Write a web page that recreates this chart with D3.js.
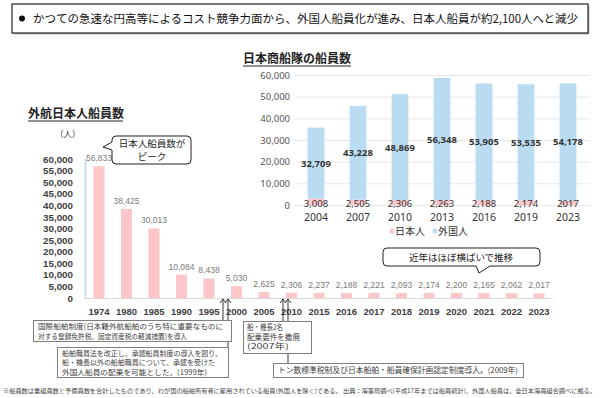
<!DOCTYPE html>
<html><head><meta charset="utf-8">
<script src="https://cdn.jsdelivr.net/npm/d3@7"></script>
<style>
html,body{margin:0;padding:0;background:#fff;}
svg{display:block;}
</style></head>
<body>
<svg id="c" width="600" height="398"></svg>
<script>
// ---------- data ----------
const headline = "かつての急速な円高等によるコスト競争力面から、外国人船員化が進み、日本人船員が約2,100人へと減少";
const leftTitle = "外航日本人船員数";
const leftYears = ["1974","1980","1985","1990","1995","2000","2005","2010","2015","2016","2017","2018","2019","2020","2021","2022","2023"];
const leftValues = [56833,38425,30013,10084,8438,5030,2625,2306,2237,2188,2221,2093,2174,2200,2165,2062,2017];
const leftTicks = [0,5000,10000,15000,20000,25000,30000,35000,40000,45000,50000,55000,60000];

const rightTitle = "日本商船隊の船員数";
const rightYears = ["2004","2007","2010","2013","2016","2019","2023"];
const japanese = [3008,2505,2306,2263,2188,2174,2017];
const foreign = [32709,43228,48869,56348,53905,53535,54178];
const japaneseLabels = ["3,008","2,505","2,306","2,263","2,188","2,174","2017"];
const rightTicks = [0,10000,20000,30000,40000,50000,60000];
const seriesNames = ["日本人","外国人"];

const calloutPeak = ["日本人船員数が","ピーク"];
const calloutFlat = "近年はほぼ横ばいで推移";
const note1 = ["国際船舶制度(日本籍外航船舶のうち特に重要なものに","対する登録免許税、固定資産税の軽減措置)を導入"];
const note2 = ["船舶職員法を改正し、承認船員制度の導入を図り、","船・機長以外の船舶職員について、承認を受けた","外国人船員の配乗を可能とした。(1999年)"];
const note3 = ["船・機長2名","配乗要件を撤廃","(2007年)"];
const note4 = ["トン数標準税制及び日本船舶・船員確保計画認定制度導入。(2009年)"];
const footnote = "※船員数は乗組員数と予備員数を合計したものであり、わが国の船舶所有者に雇用されている船員(外国人を除く)である。 出典：海事局調べ(平成17年までは船員統計)、外国人船員は、全日本海員組合調べに拠る。";

// ---------- drawing ----------
const svg = d3.select("#c");
const JP = "'Noto Sans CJK JP','Noto Sans',sans-serif";
const NUM = "'Liberation Sans',Arial,sans-serif";
const PINK = "#fcc6ca", BLUE = "#b9dcf2";

// headline box
svg.append("rect").attr("x",13.5).attr("y",5.5).attr("width",576).attr("height",29).attr("fill","#bbb");
svg.append("rect").attr("x",12).attr("y",4).attr("width",576).attr("height",29)
  .attr("fill","#fff").attr("stroke","#222").attr("stroke-width",1.2);
svg.append("circle").attr("cx",22).attr("cy",18.5).attr("r",3).attr("fill","#111");
svg.append("text").attr("x",33).attr("y",23).attr("font-family",JP).attr("font-size",11.5)
  .attr("fill","#111").attr("textLength",545).attr("lengthAdjust","spacingAndGlyphs").text(headline);

// ===== Left chart =====
const xL = d3.scaleBand().domain(leftYears).range([85.25,552.75]).paddingInner(0.6).paddingOuter(0.3);
const yL = d3.scaleLinear().domain([0,60000]).range([298,159]);

svg.append("text").attr("x",28).attr("y",118).attr("font-family",JP).attr("font-size",12)
  .attr("font-weight","bold").attr("fill","#222").text(leftTitle);
svg.append("line").attr("x1",28).attr("x2",123).attr("y1",121).attr("y2",121).attr("stroke","#222").attr("stroke-width",1);
svg.append("text").attr("x",55).attr("y",137).attr("font-family",JP).attr("font-size",8.5).attr("fill","#333").text("（人）");

const axL = svg.append("g").attr("transform","translate(85,0)")
  .call(d3.axisLeft(yL).tickValues(leftTicks).tickFormat(d3.format(",")).tickSize(0).tickPadding(12));
axL.select(".domain").attr("stroke","#8fb9e3").attr("stroke-width",2).attr("stroke-dasharray","1,1");
axL.selectAll("text").attr("font-family",NUM).attr("font-size",9.8).attr("font-weight","bold").attr("fill","#404040");

svg.append("line").attr("x1",86).attr("x2",553).attr("y1",yL(0)+0.5).attr("y2",yL(0)+0.5).attr("stroke","#d9d9d9");

svg.append("g").selectAll("rect").data(leftValues).join("rect")
  .attr("x",(d,i)=>xL(leftYears[i])).attr("width",xL.bandwidth())
  .attr("y",d=>yL(d)).attr("height",d=>yL(0)-yL(d)).attr("fill",PINK);

svg.append("g").selectAll("text").data(leftValues).join("text")
  .attr("x",(d,i)=>xL(leftYears[i])+xL.bandwidth()/2).attr("y",d=>yL(d)-5)
  .attr("text-anchor","middle").attr("font-family",NUM).attr("font-size",8.5).attr("fill","#7a7a7a")
  .text(d=>d3.format(",")(d));

const axLX = svg.append("g").attr("transform","translate(0,298)")
  .call(d3.axisBottom(xL).tickSize(0).tickPadding(10));
axLX.select(".domain").remove();
axLX.selectAll("text").attr("font-family",NUM).attr("font-size",9.5).attr("font-weight","bold").attr("fill","#404040");

// callout: peak
const peakPath = `M116,136 H187 Q191,136 191,140 V160 Q191,164 187,164 H116 Q112,164 112,160 V150 L103,147 L112,142 V140 Q112,136 116,136 Z`;
svg.append("path").attr("d",peakPath).attr("fill","#fff").attr("stroke","#222").attr("stroke-width",1);
svg.append("g").selectAll("text").data(calloutPeak).join("text")
  .attr("x",152).attr("y",(d,i)=>147+i*12.5).attr("text-anchor","middle")
  .attr("font-family",JP).attr("font-size",9.5).attr("fill","#222").text(d=>d);

// callout: flat
const flatPath = `M387,248 H536 Q540,248 540,252 V262 Q540,266 536,266 H490 L479,273 L476,266 H387 Q383,266 383,262 V252 Q383,248 387,248 Z`;
svg.append("path").attr("d",flatPath).attr("fill","#fff").attr("stroke","#222").attr("stroke-width",1);
svg.append("text").attr("x",461).attr("y",261).attr("text-anchor","middle")
  .attr("font-family",JP).attr("font-size",9.5).attr("fill","#222").text(calloutFlat);

// arrows + note boxes
function arrow(x,y2){
  svg.append("line").attr("x1",x).attr("x2",x).attr("y1",299).attr("y2",y2).attr("stroke","#222").attr("stroke-width",0.9);
  svg.append("path").attr("d",`M${x-3},303 L${x},299 L${x+3},303`).attr("fill","none").attr("stroke","#222").attr("stroke-width",0.9);
}
arrow(223,320); arrow(228,347); arrow(283,321); arrow(288,363);

function noteBox(x,y,w,h,lines,widths,fs,tx,ty,lh){
  svg.append("rect").attr("x",x+0.5).attr("y",y+0.5).attr("width",w).attr("height",h)
    .attr("fill","#fff").attr("stroke","#7f7f7f").attr("stroke-width",1);
  svg.append("g").selectAll("text").data(lines).join("text")
    .attr("x",tx).attr("y",(d,i)=>ty+i*lh).attr("font-family",JP).attr("font-size",fs).attr("fill","#404040")
    .attr("textLength",(d,i)=>widths[i]).attr("lengthAdjust","spacingAndGlyphs").text(d=>d);
}
noteBox(33,320,198,21,note1,[185,149],7.4,38,329,9.5);
noteBox(57,347,171,30,note2,[160,153,145],7.3,62,356,9.3);
noteBox(243,321,68,32,note3,[36,53,42],7.5,247,330,9.5);
noteBox(273,363,250,14,note4,[240],7.6,278,373,9);

// ===== Right chart =====
const xR = d3.scaleBand().domain(rightYears).range([295,589]).paddingInner(0.6).paddingOuter(0.3);
const yR = d3.scaleLinear().domain([0,60000]).range([205,75]);

svg.append("text").attr("x",243).attr("y",63).attr("font-family",JP).attr("font-size",12)
  .attr("font-weight","bold").attr("fill","#222").text(rightTitle);
svg.append("line").attr("x1",243).attr("x2",351).attr("y1",66).attr("y2",66).attr("stroke","#222").attr("stroke-width",1);

const axR = svg.append("g").attr("transform","translate(295,0)")
  .call(d3.axisLeft(yR).tickValues(rightTicks).tickFormat(d3.format(",")).tickSize(-295).tickPadding(5));
axR.select(".domain").remove();
axR.selectAll("line").attr("stroke","#e8e8e8");
axR.selectAll("text").attr("font-family","'Noto Sans',sans-serif").attr("font-size",9.5).attr("fill","#555");

const stackData = rightYears.map((y,i)=>({year:y, jp:japanese[i], fr:foreign[i]}));
const stacked = d3.stack().keys(["jp","fr"])(stackData);
const colors = [PINK, BLUE];
svg.append("g").selectAll("g").data(stacked).join("g").attr("fill",(d,i)=>colors[i])
  .selectAll("rect").data(d=>d).join("rect")
  .attr("x",d=>xR(d.data.year)).attr("width",xR.bandwidth())
  .attr("y",d=>yR(d[1])).attr("height",d=>yR(d[0])-yR(d[1]));

svg.append("g").selectAll("text").data(stacked[1]).join("text")
  .attr("x",d=>xR(d.data.year)+xR.bandwidth()/2).attr("y",d=>(yR(d[0])+yR(d[1]))/2+3.5)
  .attr("text-anchor","middle").attr("font-family","'Noto Sans',sans-serif").attr("font-size",9.5)
  .attr("font-weight","bold").attr("fill","#333").text(d=>d3.format(",")(d.data.fr));
svg.append("g").selectAll("text").data(stacked[0]).join("text")
  .attr("x",d=>xR(d.data.year)+xR.bandwidth()/2).attr("y",yR(0)+2)
  .attr("text-anchor","middle").attr("font-family","'Noto Sans',sans-serif").attr("font-size",9.5)
  .attr("fill","#333").text((d,i)=>japaneseLabels[i]);

const axRX = svg.append("g").attr("transform","translate(0,205)")
  .call(d3.axisBottom(xR).tickSize(0).tickPadding(9));
axRX.select(".domain").remove();
axRX.selectAll("text").attr("font-family","'Noto Sans',sans-serif").attr("font-size",10.5).attr("fill","#333");

// legend
const lg = svg.append("g").selectAll("g").data(seriesNames).join("g")
  .attr("transform",(d,i)=>`translate(${390+i*43},0)`);
lg.append("rect").attr("x",0).attr("y",228.5).attr("width",4).attr("height",5).attr("fill",(d,i)=>colors[i]);
lg.append("text").attr("x",5).attr("y",235).attr("font-family",JP).attr("font-size",10).attr("fill","#333").text(d=>d);

// footnote
svg.append("text").attr("x",3).attr("y",393).attr("font-family",JP).attr("font-size",6).attr("fill","#444")
  .attr("textLength",593).attr("lengthAdjust","spacingAndGlyphs").text(footnote);
</script>
</body></html>
